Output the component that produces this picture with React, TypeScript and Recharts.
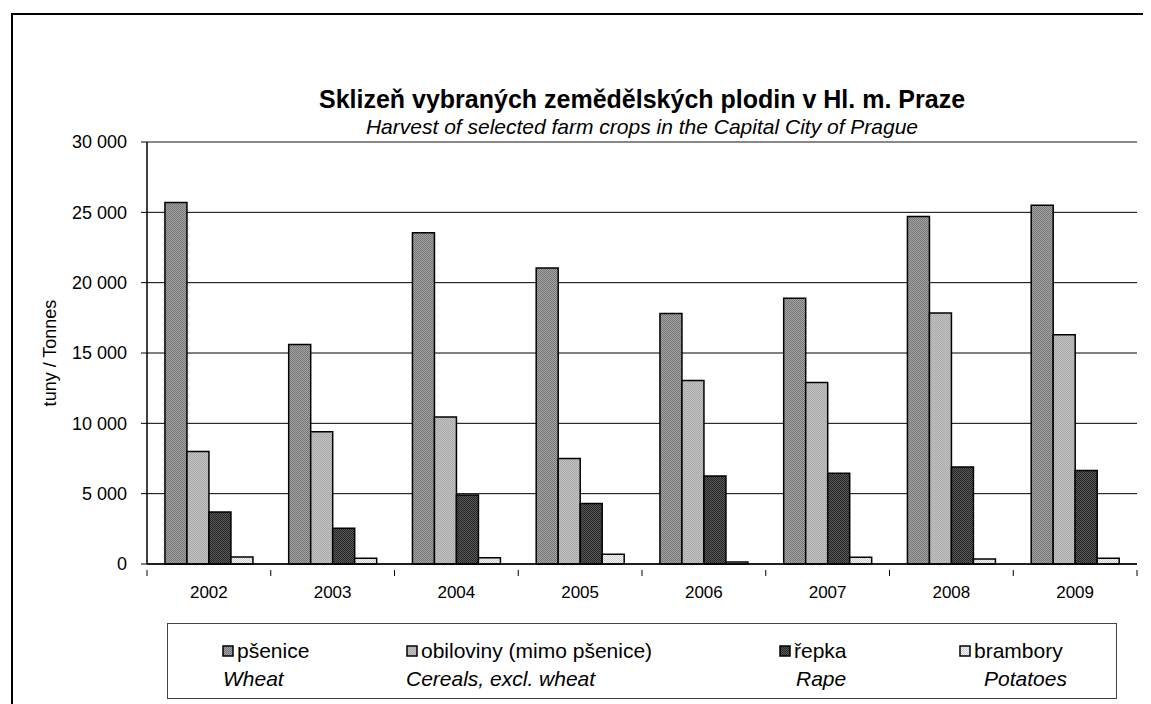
import { BarChart, Bar, XAxis, YAxis, CartesianGrid, Legend, ReferenceLine, Label } from 'recharts';

const years = ['2002', '2003', '2004', '2005', '2006', '2007', '2008', '2009'];
const wheat = [25700, 15600, 23550, 21050, 17800, 18900, 24700, 25500];
const cereals = [8000, 9400, 10450, 7500, 13050, 12900, 17850, 16300];
const rape = [3700, 2550, 4900, 4300, 6250, 6450, 6900, 6650];
const potatoes = [500, 400, 450, 700, 150, 480, 350, 400];

const seriesKeys = ['wheat', 'cereals', 'rape', 'potatoes'];
const seriesNamesCz = ['pšenice', 'obiloviny (mimo pšenice)', 'řepka', 'brambory'];
const seriesNamesEn = ['Wheat', 'Cereals, excl. wheat', 'Rape', 'Potatoes'];
const yTicks = [0, 5000, 10000, 15000, 20000, 25000, 30000];

const data = years.map((year, i) => ({
  year,
  wheat: wheat[i],
  cereals: cereals[i],
  rape: rape[i],
  potatoes: potatoes[i],
}));

// pattern fills imitating the Excel dotted fills
const fills: Record<string, [string, string]> = {
  wheat: ['#777777', '#a3a3a3'],
  cereals: ['#a8a8a8', '#c4c4c4'],
  rape: ['#262626', '#585858'],
  potatoes: ['#cfcfcf', '#f2f2f2'],
};

const FONT = '"Liberation Sans", Arial, sans-serif';
const W = 1143;
const H = 696;
const PLOT_LEFT = 139;
const PLOT_RIGHT = 1129;
const BAND = (PLOT_RIGHT - PLOT_LEFT) / years.length;

const legendSwatchX = [54, 238, 611, 791];
const legendNoteX = [55, 238, 628, 816];

function fmt(v: number) {
  return String(v).replace(/\B(?=(\d{3})+(?!\d))/g, ' ');
}

function XTick(props: any) {
  const { x, y, payload, index } = props;
  const axisY = y - 16;
  const left = x - BAND / 2;
  return (
    <g>
      <line x1={left} y1={axisY} x2={left} y2={axisY + 6} stroke="#000" />
      {index === years.length - 1 && (
        <line x1={x + BAND / 2} y1={axisY} x2={x + BAND / 2} y2={axisY + 6} stroke="#000" />
      )}
      <text x={x} y={y} dy="0.71em" textAnchor="middle" fontSize={17} fontFamily={FONT} fill="#000">
        {payload.value}
      </text>
    </g>
  );
}

function LegendBox() {
  return (
    <div
      style={{
        position: 'relative',
        width: 950,
        height: 76,
        boxSizing: 'border-box',
        border: '1px solid #444',
        fontFamily: FONT,
        fontSize: 21,
        color: '#000',
      }}
    >
      {seriesKeys.map((key, i) => (
        <div key={key}>
          <div
            style={{
              position: 'absolute',
              left: legendSwatchX[i],
              top: 15,
              display: 'flex',
              alignItems: 'center',
              whiteSpace: 'nowrap',
            }}
          >
            <svg width={12} height={12} style={{ marginRight: 3 }}>
              <rect x={1} y={1} width={10} height={10} fill={`url(#pat-${key})`} stroke="#000" strokeWidth={1.5} />
            </svg>
            <span>{seriesNamesCz[i]}</span>
          </div>
          <div
            style={{
              position: 'absolute',
              left: legendNoteX[i],
              top: 43,
              fontStyle: 'italic',
              whiteSpace: 'nowrap',
            }}
          >
            {seriesNamesEn[i]}
          </div>
        </div>
      ))}
    </div>
  );
}

export default function App() {
  return (
    <div style={{ position: 'relative', width: W, height: H, overflow: 'hidden', background: '#fff' }}>
      <div
        style={{
          position: 'absolute',
          left: 3,
          top: 5,
          width: 1300,
          height: 900,
          borderTop: '2px solid #000',
          borderLeft: '2px solid #000',
        }}
      />
      <div
        style={{
          position: 'absolute',
          left: 0,
          width: PLOT_LEFT + PLOT_RIGHT,
          top: 77,
          textAlign: 'center',
          fontFamily: FONT,
          color: '#000',
          lineHeight: '28px',
        }}
      >
        <div style={{ fontWeight: 'bold', fontSize: 25 }}>Sklizeň vybraných zemědělských plodin v Hl. m. Praze</div>
        <div style={{ fontStyle: 'italic', fontSize: 21 }}>Harvest of selected farm crops in the Capital City of Prague</div>
      </div>
      <div style={{ position: 'absolute', left: 0, top: 0 }}>
        <BarChart
          width={W}
          height={H}
          data={data}
          margin={{ top: 134, right: 14, left: 79, bottom: 100 }}
          barCategoryGap="14.5%"
          barGap={0}
        >
          <defs>
            {seriesKeys.map((key) => (
              <pattern key={key} id={`pat-${key}`} width={2} height={2} patternUnits="userSpaceOnUse">
                <rect width={2} height={2} fill={fills[key][1]} />
                <rect width={1} height={1} fill={fills[key][0]} />
                <rect x={1} y={1} width={1} height={1} fill={fills[key][0]} />
              </pattern>
            ))}
          </defs>
          <CartesianGrid vertical={false} stroke="#000" strokeWidth={1} />
          <ReferenceLine y={30000} stroke="#888" strokeWidth={2} />
          <XAxis
            dataKey="year"
            height={40}
            tickLine={false}
            tickSize={6}
            tickMargin={16}
            axisLine={{ stroke: '#000', strokeWidth: 1.5 }}
            tick={<XTick />}
            interval={0}
          />
          <YAxis
            width={60}
            domain={[0, 30000]}
            ticks={yTicks}
            tickFormatter={fmt}
            tickSize={6}
            tickMargin={14}
            tickLine={{ stroke: '#000' }}
            axisLine={{ stroke: '#000', strokeWidth: 1.5 }}
            tick={{ fontSize: 18, fontFamily: FONT, fill: '#000' }}
            interval={0}
          >
            <Label
              content={() => (
                <text
                  x={42}
                  y={345}
                  transform="rotate(-90 42 345)"
                  textAnchor="middle"
                  dominantBaseline="central"
                  fontSize={18}
                  fontFamily={FONT}
                  fill="#000"
                >
                  tuny / Tonnes
                </text>
              )}
            />
          </YAxis>
          <YAxis
            yAxisId="frame"
            orientation="right"
            width={0}
            tick={false}
            tickLine={false}
            axisLine={{ stroke: '#888', strokeWidth: 2 }}
          />
          {seriesKeys.map((key, i) => (
            <Bar
              key={key}
              dataKey={key}
              name={seriesNamesCz[i]}
              fill={`url(#pat-${key})`}
              stroke="#000"
              strokeWidth={1.5}
              isAnimationActive={false}
            />
          ))}
          <Legend
            layout="vertical"
            align="center"
            verticalAlign="middle"
            wrapperStyle={{ left: 159, top: 615, width: 950, height: 76 }}
            content={() => <LegendBox />}
          />
        </BarChart>
      </div>
    </div>
  );
}
